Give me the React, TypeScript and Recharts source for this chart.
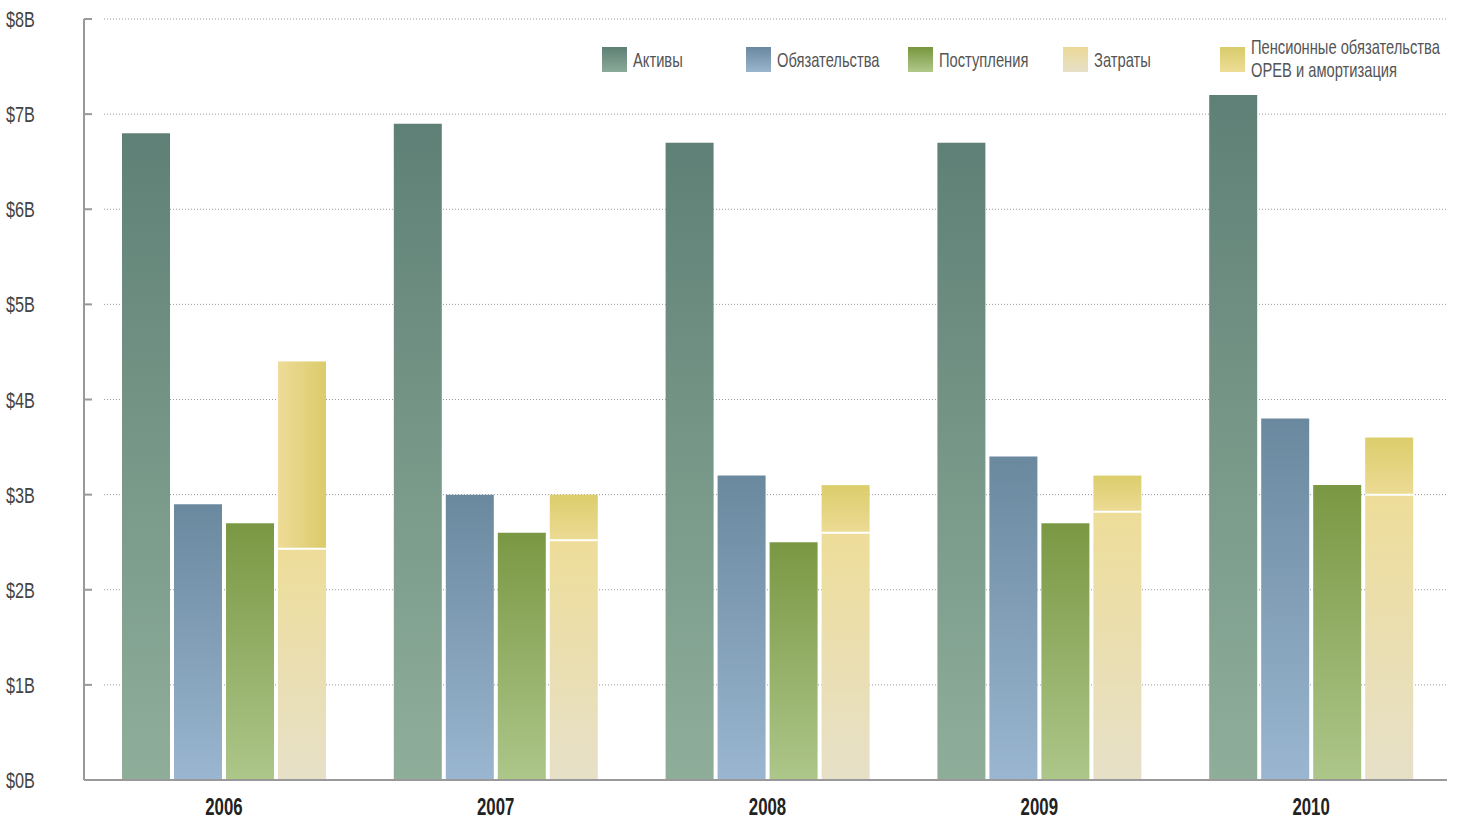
import React from 'react';
import { BarChart, Bar, XAxis, YAxis, CartesianGrid } from 'recharts';

const years = ['2006', '2007', '2008', '2009', '2010'];
const assets = [6.8, 6.9, 6.7, 6.7, 7.2];
const liabilities = [2.9, 3.0, 3.2, 3.4, 3.8];
const revenues = [2.7, 2.6, 2.5, 2.7, 3.1];
const expenses = [2.43, 2.52, 2.6, 2.82, 3.0];
const pension = [1.97, 0.48, 0.5, 0.38, 0.6];
const yTicks = [0, 1, 2, 3, 4, 5, 6, 7, 8];

const seriesNames = ['Активы', 'Обязательства', 'Поступления', 'Затраты', 'Пенсионные обязательства\nOPEB и амортизация'];

const data = years.map((year, i) => ({
    year,
    assets: assets[i],
    liabilities: liabilities[i],
    revenues: revenues[i],
    expenses: expenses[i],
    pension: pension[i],
}));

const FONT = "'Liberation Sans', Arial, sans-serif";

/* ── Ticks (condensed look via horizontal scale) ─────────────────────── */
const YTick = ({ y, payload }: any) => (
    <g>
        <line x1={84} x2={92} y1={y} y2={y} stroke="#999" strokeWidth={2} />
        <text transform={`translate(6,${y + 8}) scale(0.74,1)`} textAnchor="start" fill="#444" fontSize={22} fontFamily={FONT}>
            {`$${payload.value}B`}
        </text>
    </g>
);

const XTick = ({ x, payload }: any) => (
    <text transform={`translate(${x},815) scale(0.7,1)`} textAnchor="middle" fill="#222" fontSize={24} fontWeight={700} fontFamily={FONT}>
        {payload.value}
    </text>
);

/* ── Pension segment: gradient fill + white divider at its base ─────── */
const PensionShape = (props: any) => {
    const { x, y, width, height, index } = props;
    if (!height || height <= 0) return null;
    const fill = index === 0 ? 'url(#gPenH)' : 'url(#gPen)';
    return (
        <g>
            <rect x={x} y={y} width={width} height={height} fill={fill} />
            <line x1={x} x2={x + width} y1={y + height} y2={y + height} stroke="#fff" strokeWidth={2} />
        </g>
    );
};

/* ── Legend (overlay) ────────────────────────────────────────────────── */
const legendItems = [
    { left: 602, grad: 'linear-gradient(#5e7f74, #8aab98)' },
    { left: 746, grad: 'linear-gradient(#6a88a0, #9ab5cc)' },
    { left: 908, grad: 'linear-gradient(#78963e, #b0c98a)' },
    { left: 1063, grad: 'linear-gradient(#ecd998, #e6e0c8)' },
    { left: 1220, grad: 'linear-gradient(#d8cb6a, #eedd98)' },
];

const LegendOverlay = () => (
    <>
        {legendItems.map((it, i) => (
            <div key={i} style={{ position: 'absolute', left: it.left, top: 47, display: 'flex', alignItems: i === 4 ? 'flex-start' : 'center' }}>
                <div style={{ width: 25, height: 25, background: it.grad, flex: 'none' }} />
                <div style={{
                    marginLeft: 6, fontFamily: FONT, fontSize: 21, color: '#555',
                    lineHeight: i === 4 ? '23px' : '25px', whiteSpace: 'pre', marginTop: i === 4 ? -12 : -1,
                    transform: 'scaleX(0.7)', transformOrigin: 'left center',
                }}>
                    {seriesNames[i]}
                </div>
            </div>
        ))}
    </>
);

export default function App() {
    return (
        <div style={{ position: 'absolute', left: 0, top: 0, width: 1460, height: 819, background: '#fff', overflow: 'hidden' }}>
            <BarChart
                width={1460}
                height={819}
                data={data}
                margin={{ top: 19, right: 13, left: 0, bottom: 0 }}
                barSize={48}
                barGap={4}
            >
                <defs>
                    <linearGradient id="gAss" x1="0" y1="0" x2="0" y2="1">
                        <stop offset="0%" stopColor="#5f8076" />
                        <stop offset="100%" stopColor="#8fae9a" />
                    </linearGradient>
                    <linearGradient id="gLia" x1="0" y1="0" x2="0" y2="1">
                        <stop offset="0%" stopColor="#6a889e" />
                        <stop offset="100%" stopColor="#9ab6d0" />
                    </linearGradient>
                    <linearGradient id="gRev" x1="0" y1="0" x2="0" y2="1">
                        <stop offset="0%" stopColor="#7a9843" />
                        <stop offset="100%" stopColor="#adc68a" />
                    </linearGradient>
                    <linearGradient id="gExp" x1="0" y1="0" x2="0" y2="1">
                        <stop offset="0%" stopColor="#eedd99" />
                        <stop offset="100%" stopColor="#e6e0c8" />
                    </linearGradient>
                    <linearGradient id="gPen" x1="0" y1="0" x2="0" y2="1">
                        <stop offset="0%" stopColor="#dccd6c" />
                        <stop offset="100%" stopColor="#ecdb94" />
                    </linearGradient>
                    <linearGradient id="gPenH" x1="0" y1="0" x2="1" y2="0">
                        <stop offset="0%" stopColor="#eedc98" />
                        <stop offset="100%" stopColor="#dbcb6a" />
                    </linearGradient>
                </defs>

                <CartesianGrid
                    x={104}
                    width={1343}
                    vertical={false}
                    stroke="#9a9a9a"
                    strokeDasharray="1 2"
                />

                <YAxis
                    domain={[0, 8]}
                    ticks={yTicks}
                    width={84}
                    tick={<YTick />}
                    tickLine={false}
                    axisLine={{ stroke: '#999', strokeWidth: 2 }}
                    interval={0}
                />
                <XAxis
                    dataKey="year"
                    height={39}
                    tick={<XTick />}
                    tickLine={false}
                    axisLine={{ stroke: '#999', strokeWidth: 2 }}
                    padding={{ left: 4, right: 0 }}
                />

                <Bar dataKey="assets" stackId="a" fill="url(#gAss)" isAnimationActive={false} />
                <Bar dataKey="liabilities" stackId="b" fill="url(#gLia)" isAnimationActive={false} />
                <Bar dataKey="revenues" stackId="c" fill="url(#gRev)" isAnimationActive={false} />
                <Bar dataKey="expenses" stackId="d" fill="url(#gExp)" isAnimationActive={false} />
                <Bar dataKey="pension" stackId="d" shape={<PensionShape />} isAnimationActive={false} />
            </BarChart>
            <LegendOverlay />
        </div>
    );
}
